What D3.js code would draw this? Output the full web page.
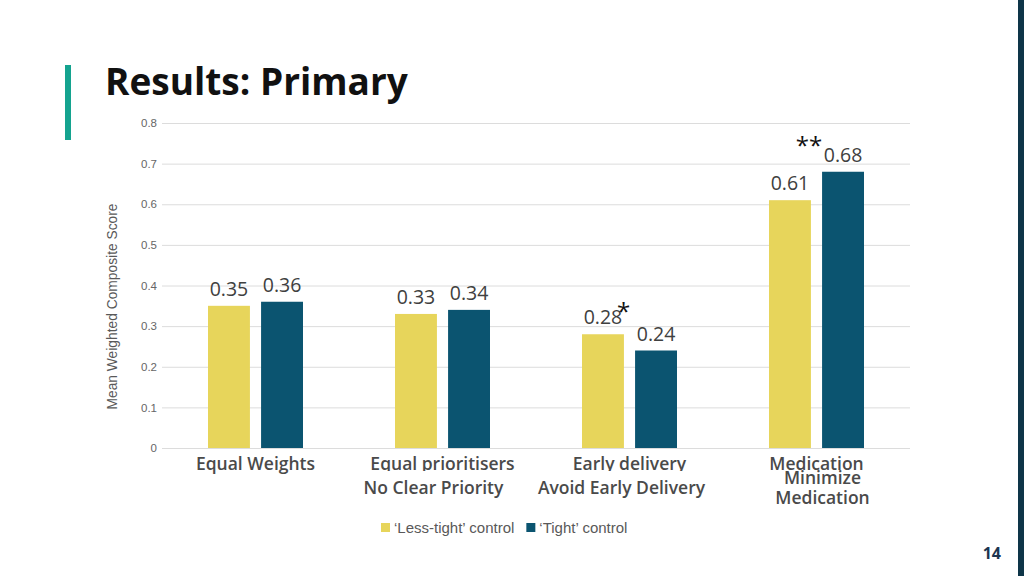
<!DOCTYPE html>
<html>
<head>
<meta charset="utf-8">
<script src="https://cdn.jsdelivr.net/npm/d3@7"></script>
<style>
  body { margin: 0; background: #fff; }
  svg { display: block; }
</style>
</head>
<body>
<div id="chart"></div>
<script>
// chart values
var categories = ["Equal Weights", "Equal prioritisers", "Early delivery", "Medication"];
var subLabels = [[], ["No Clear Priority"], ["Avoid Early Delivery"], ["Minimize", "Medication"]];
var seriesNames = ["\u2018Less-tight\u2019 control", "\u2018Tight\u2019 control"];
var lessTight = [0.35, 0.33, 0.28, 0.61];
var tight = [0.36, 0.34, 0.24, 0.68];
var yTicks = [0, 0.1, 0.2, 0.3, 0.4, 0.5, 0.6, 0.7, 0.8];
var stars = [{cat: "Early delivery", text: "*"}, {cat: "Medication", text: "**"}];

var colors = ["#E7D55B", "#0B5470"];
var W = 1024, H = 576;
var margin = {top: 123, right: 114, bottom: 128, left: 162};
var width = W - margin.left - margin.right,
    height = H - margin.top - margin.bottom;

var svg = d3.select("#chart").append("svg")
    .attr("width", W)
    .attr("height", H);

// slide decoration
svg.append("rect").attr("x", 65).attr("y", 65).attr("width", 6).attr("height", 75).attr("fill", "#14A38F");
svg.append("rect").attr("x", 1018).attr("y", 0).attr("width", 6).attr("height", H).attr("fill", "#0E3548");

svg.append("text")
    .attr("x", 105).attr("y", 95)
    .attr("font-family", "Open Sans")
    .attr("font-weight", 700)
    .attr("font-size", 37)
    .attr("fill", "#111")
    .text("Results: Primary");

svg.append("text")
    .attr("x", 1001).attr("y", 559)
    .attr("text-anchor", "end")
    .attr("font-family", "Open Sans")
    .attr("font-weight", 700)
    .attr("font-size", 16)
    .attr("fill", "#1C3550")
    .text("14");

var g = svg.append("g")
    .attr("transform", "translate(" + margin.left + "," + margin.top + ")");

var x0 = d3.scaleBand().domain(categories).range([0, width]).padding(0);
var x1 = d3.scaleBand().domain([0, 1]).range([46, 141]).paddingInner(0.21);
var y = d3.scaleLinear().domain([0, 0.8]).range([height, 0]);

// gridlines + tick labels
var yAxis = g.append("g")
    .call(d3.axisLeft(y).tickValues(yTicks).tickSize(-width).tickFormat(function(d) { return d === 0 ? "0" : d3.format(".1f")(d); }));
yAxis.select(".domain").remove();
yAxis.selectAll(".tick line").attr("stroke", "#DCDCDC");
yAxis.selectAll(".tick text")
    .attr("x", -5)
    .attr("font-family", "Liberation Sans")
    .attr("font-size", 11.5)
    .attr("fill", "#666");

g.append("text")
    .attr("transform", "translate(-45," + (height / 2 + 21) + ") rotate(-90)")
    .attr("text-anchor", "middle")
    .attr("font-family", "Liberation Sans")
    .attr("font-size", 13.8)
    .attr("fill", "#595959")
    .text("Mean Weighted Composite Score");

var series = [lessTight, tight];
var groups = g.selectAll(".grp")
    .data(categories)
    .enter().append("g")
    .attr("transform", function(d) { return "translate(" + x0(d) + ",0)"; });

groups.selectAll("rect")
    .data(function(d, i) { return series.map(function(s, k) { return {k: k, v: s[i]}; }); })
    .enter().append("rect")
    .attr("x", function(d) { return x1(d.k); })
    .attr("width", x1.bandwidth())
    .attr("y", function(d) { return y(d.v); })
    .attr("height", function(d) { return height - y(d.v); })
    .attr("fill", function(d) { return colors[d.k]; });

groups.selectAll(".lbl")
    .data(function(d, i) { return series.map(function(s, k) { return {k: k, v: s[i]}; }); })
    .enter().append("text")
    .attr("x", function(d) { return x1(d.k) + x1.bandwidth() / 2; })
    .attr("y", function(d) { return y(d.v) - 10; })
    .attr("text-anchor", "middle")
    .attr("font-family", "Open Sans")
    .attr("font-size", 19.5)
    .attr("fill", "#404040")
    .text(function(d) { return d3.format(".2f")(d.v); });

stars.forEach(function(s) {
  var i = categories.indexOf(s.cat);
  var gx = x0(s.cat);
  var t = g.append("text")
      .attr("font-family", "Open Sans")
      .attr("font-size", 24)
      .attr("fill", "#111")
      .text(s.text);
  if (s.text === "*") {
    t.attr("x", gx + x1(0) + x1.bandwidth() - 7).attr("y", y(lessTight[i]) - 14);
  } else {
    t.attr("x", gx + x1(1) - 13).attr("y", y(tight[i]) - 18).attr("text-anchor", "middle");
  }
});

// category labels (first line clipped where a second text box sits below it)
svg.append("clipPath").attr("id", "catClip")
  .append("rect").attr("x", 0).attr("y", 0).attr("width", W).attr("height", margin.top + height + 23);

svg.selectAll(".cat")
    .data(categories)
    .enter().append("text")
    .attr("class", "cat")
    .attr("clip-path", function(d, i) { return subLabels[i].length ? "url(#catClip)" : null; })
    .attr("x", function(d) { return margin.left + x0(d) + x0.bandwidth() / 2; })
    .attr("y", margin.top + height + 22)
    .attr("text-anchor", "middle")
    .attr("font-family", "Open Sans")
    .attr("font-weight", 600)
    .attr("font-size", 17.5)
    .attr("fill", "#4A4A4A")
    .text(function(d) { return d; });

var subOffsets = [0, -9, -8, 6];
subLabels.forEach(function(lines, i) {
  var cx = margin.left + x0(categories[i]) + x0.bandwidth() / 2 + subOffsets[i];
  var top = lines.length > 1 ? margin.top + height + 36 : margin.top + height + 46;
  lines.forEach(function(line, j) {
    svg.append("text")
      .attr("x", cx)
      .attr("y", top + j * 20)
      .attr("text-anchor", "middle")
      .attr("font-family", "Open Sans")
      .attr("font-weight", 600)
      .attr("font-size", 17.5)
      .attr("fill", "#4A4A4A")
      .text(line);
  });
});

// legend
var legend = svg.append("g").attr("transform", "translate(381,533)");
var lx = 0;
seriesNames.forEach(function(name, k) {
  legend.append("rect").attr("x", lx).attr("y", -10).attr("width", 9).attr("height", 9).attr("fill", colors[k]);
  var t = legend.append("text")
      .attr("x", lx + 13)
      .attr("y", 0)
      .attr("font-family", "Liberation Sans")
      .attr("font-size", 15)
      .attr("fill", "#595959")
      .text(name);
  lx += 13 + t.node().getComputedTextLength() + 12;
});
</script>
</body>
</html>
